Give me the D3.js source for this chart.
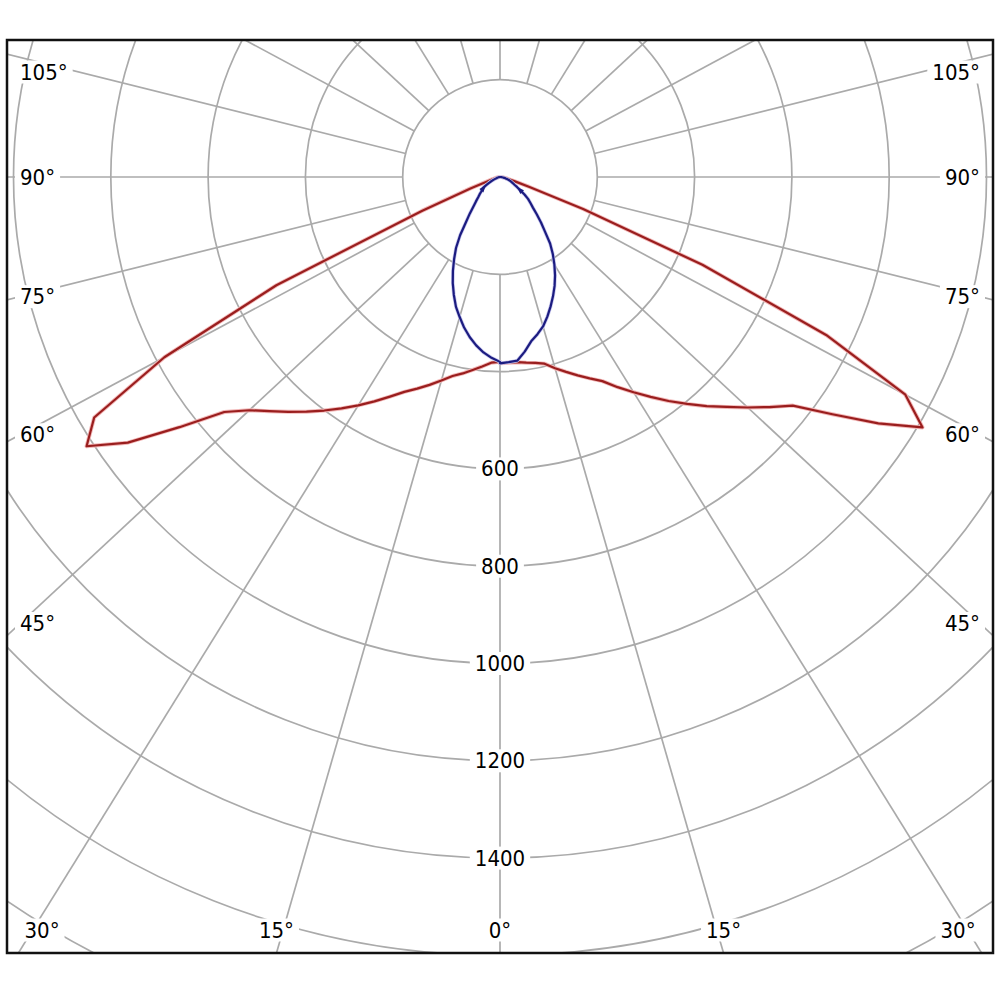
<!DOCTYPE html>
<html><head><meta charset="utf-8">
<script src="https://cdn.jsdelivr.net/npm/d3@7"></script>
<style>html,body{margin:0;padding:0;background:#fff}</style>
</head><body>
<svg id="chart" width="1000" height="1000"></svg>
<script>
// ---- data (luminous intensity, cd) ----
const gammaAngles = [0,2.5,5,7.5,10,12.5,15,17.5,20,22.5,25,27.5,30,32.5,35,37.5,40,42.5,45,47.5,50,52.5,55,57.5,60,62.5,65,67.5,70,72.5,75,77.5,80,82.5,85,87.5,90];
const redC270 = [380,382,391,400,410,419,433,448,463,478,498,520,542,564,586,608,630,653,678,715,800,897,965,920,741,482,165,60,25,15,10,7,5,3,2,1,0];
const redC90  = [383,382,382,385,388,393,407,420,434,448,463,487,511,536,562,588,615,641,670,700,731,801,883,958,895,703,427,172,60,30,18,12,8,5,3,1,0];
const blueC180 = [380,372,362,349,334,317,298,280,258,236,213,190,168,142,114,95,79,68,59,53,47,43,40,32,25,19,14,10,7,5.5,4,3,2.5,2,1,0.5,0];
const blueC0   = [383,381,379,362,343,331,318,301,283,265,247,228,208,188,167,141,122,104,89,79,70,59,47,39,32,28,24,21,18,14,11,8,6,4,2.5,1,0];
const ringValues = [200,400,600,800,1000,1200,1400,1600,1800,2000];
const ringLabelValues = [600,800,1000,1200,1400];
const angleLabelValues = [0,15,30,45,60,75,90,105];
const gridAngles = [0,15,30,45,60,75,90,105,120,135,150,165,180];

// ---- layout ----
const frame = {x:7, y:40, w:986, h:913};
const cx = 500, cy = 177;
const r = d3.scaleLinear().domain([0, 200]).range([0, 97.3]);
const kx = 1.075; // horizontal stretch of the angular grid in the original
const rad = d => d * Math.PI / 180;
function project(angle, value, side) {
  const rr = r(value);
  return [cx + side * kx * rr * Math.sin(rad(angle)), cy + rr * Math.cos(rad(angle))];
}
function dir(angle, side) {
  const dx = side * kx * Math.sin(rad(angle)), dy = Math.cos(rad(angle));
  const L = Math.hypot(dx, dy);
  return [dx / L, dy / L];
}

const svg = d3.select('#chart');
svg.append('rect').attr('width',1000).attr('height',1000).attr('fill','#fff');
svg.append('defs').append('clipPath').attr('id','clip')
  .append('rect').attr('x',frame.x).attr('y',frame.y).attr('width',frame.w).attr('height',frame.h);

const grid = svg.append('g').attr('clip-path','url(#clip)')
  .attr('fill','none').attr('stroke','#aaaaaa').attr('stroke-width',1.7);

// rings
grid.selectAll('circle.ring').data(ringValues).join('circle')
  .attr('class','ring').attr('cx',cx).attr('cy',cy).attr('r',d => r(d));

// radial lines
const spokes = [];
[-1, 1].forEach(side => gridAngles.forEach(a => {
  if (side === 1 && (a === 0 || a === 180)) return;
  spokes.push({a, side});
}));
grid.selectAll('line.spoke').data(spokes).join('line')
  .attr('class','spoke')
  .attr('x1', d => cx + dir(d.a,d.side)[0]*r(200))
  .attr('y1', d => cy + dir(d.a,d.side)[1]*r(200))
  .attr('x2', d => cx + dir(d.a,d.side)[0]*r(2400))
  .attr('y2', d => cy + dir(d.a,d.side)[1]*r(2400));

// labels with white boxes
const fontFamily = '"DejaVu Sans Condensed", "DejaVu Sans", "Liberation Sans", sans-serif';
function addLabel(x, y, txt, anchor) {
  const g = svg.append('g');
  const bg = g.append('rect').attr('fill','#fff');
  const t = g.append('text').attr('x',x).attr('y',y)
    .attr('text-anchor',anchor || 'middle').attr('dominant-baseline','central')
    .attr('font-family',fontFamily).attr('font-size',22).attr('fill','#000').text(txt);
  const b = t.node().getBBox();
  bg.attr('x',b.x-5).attr('y',b.y+1).attr('width',b.width+10).attr('height',b.height-2);
}
ringLabelValues.forEach(v => addLabel(cx, cy + r(v), String(v)));

const sideTextX = 20, bottomTextY = 930, topTextMin = frame.y + 32;
angleLabelValues.forEach(a => {
  [-1, 1].forEach(side => {
    if (a === 0 && side === 1) return;
    const u = dir(a, side);
    const txt = a + '\u00B0';
    const tBottom = u[1] > 0 ? (frame.y + frame.h - cy) / u[1] : Infinity;
    const xAtBottom = cx + u[0] * tBottom;
    if (isFinite(tBottom) && xAtBottom > frame.x && xAtBottom < frame.x + frame.w) {
      // label sits above where its spoke meets the bottom edge
      const x = Math.max(42, Math.min(958, xAtBottom));
      addLabel(x, bottomTextY, txt);
    } else {
      // label starts near the side edge, on its spoke
      const xEdge = side < 0 ? sideTextX : 1000 - sideTextX;
      const t = Math.abs(xEdge - cx) / Math.abs(u[0]);
      const y = Math.max(topTextMin, cy + u[1] * t);
      addLabel(xEdge, y, txt, side < 0 ? 'start' : 'end');
    }
  });
});

// curves
const line = d3.line().curve(d3.curveLinear);
function curvePoints(leftVals, rightVals) {
  const left = gammaAngles.map((a,i) => project(a, leftVals[i], -1)).reverse();
  const right = gammaAngles.map((a,i) => project(a, rightVals[i], 1));
  return left.concat(right);
}
const curves = svg.append('g').attr('fill','none').attr('stroke-linejoin','round');
const redPts = curvePoints(redC270, redC90);
curves.append('path').attr('d', line(redPts)).attr('stroke','#f2b8b8').attr('stroke-width',4);
curves.append('path').attr('d', line(redPts)).attr('stroke','#9a1e1e').attr('stroke-width',2.2);
const bluePts = curvePoints(blueC180, blueC0);
curves.append('path').attr('d', line(bluePts)).attr('stroke','#c8c8ee').attr('stroke-width',3.6);
curves.append('path').attr('d', line(bluePts)).attr('stroke','#1c1c80').attr('stroke-width',2.2);

// small arrowheads on blue curve near the centre
const iTip = gammaAngles.indexOf(57.5), iBase = gammaAngles.indexOf(52.5);
[[-1, blueC180], [1, blueC0]].forEach(([side, vals]) => {
  const tip = project(gammaAngles[iTip], vals[iTip], side);
  const base = project(gammaAngles[iBase], vals[iBase], side);
  const dx = tip[0]-base[0], dy = tip[1]-base[1], L = Math.hypot(dx,dy);
  const ux = dx/L, uy = dy/L, len = 7, hw = 2.6;
  const bx = tip[0]-ux*len, by = tip[1]-uy*len;
  svg.append('path')
    .attr('d', `M${tip[0]},${tip[1]}L${bx - uy*hw},${by + ux*hw}L${bx + uy*hw},${by - ux*hw}Z`)
    .attr('fill','#1c1c80');
});

// frame
svg.append('rect').attr('x',frame.x).attr('y',frame.y).attr('width',frame.w).attr('height',frame.h)
  .attr('fill','none').attr('stroke','#111').attr('stroke-width',2.5);
</script>
</body></html>
